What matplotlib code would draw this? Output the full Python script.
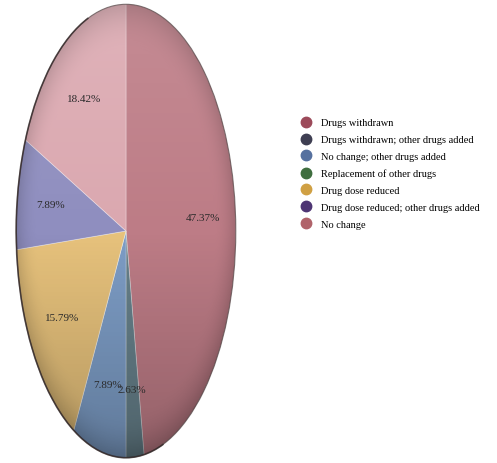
import numpy as np
import matplotlib
matplotlib.use("Agg")
import matplotlib.pyplot as plt
from matplotlib.lines import Line2D
from matplotlib.patches import Ellipse, Arc

# Share of patients per intervention outcome (%)
categories = [
    "Drugs withdrawn",
    "Drugs withdrawn; other drugs added",
    "No change; other drugs added",
    "Replacement of other drugs",
    "Drug dose reduced",
    "Drug dose reduced; other drugs added",
    "No change",
]
shares = [47.37, 2.63, 7.89, 0.0, 15.79, 7.89, 18.42]

slice_colors = ["#bd7c86", "#66808a", "#7d9dc6", "#5f8a5a", "#e7c27c", "#8f8ebf", "#dba8b0"]
legend_colors = ["#9c4a5a", "#3e3e52", "#56719f", "#3f6e3f", "#d0a043", "#4e3574", "#b0636a"]

plt.rcParams["font.family"] = ["Liberation Serif", "DejaVu Serif"]

fig = plt.figure(figsize=(4.97, 4.64), dpi=100)
ax = fig.add_axes([14 / 497, 3 / 464, 224 / 497, 458 / 464])


def pct_label(p):
    return "" if p < 0.5 else f"{p:.2f}%"


wedges, _, autotexts = ax.pie(
    shares,
    colors=slice_colors,
    startangle=90,
    counterclock=False,
    autopct=pct_label,
    pctdistance=0.7,
    wedgeprops=dict(linewidth=0.6, edgecolor=(1, 1, 1, 0.35)),
    textprops=dict(fontsize=8, color="#2a2a2a"),
)
ax.set_aspect("auto")
ax.set_xlim(-1.02, 1.02)
ax.set_ylim(-1.01, 1.01)

# soft shading: light top, darker bottom, a slight rim
xx, yy = np.meshgrid(np.linspace(-1, 1, 300), np.linspace(-1, 1, 300))
rr = np.sqrt(xx ** 2 + yy ** 2)
dark = np.clip(-yy, 0, 1) * 0.22 + np.clip((rr - 0.8) / 0.2, 0, 1) ** 2 * 0.15
light = np.clip(yy, 0, 1) * 0.12
shade = np.zeros((300, 300, 4))
shade[..., :3] = (light / (light + dark + 1e-9))[..., None]
shade[..., 3] = light + dark
img = ax.imshow(shade, extent=(-1, 1, -1, 1), origin="lower", zorder=3, aspect="auto")
img.set_clip_path(Ellipse((0, 0), 2, 2, transform=ax.transData))

ax.add_patch(Ellipse((0, 0), 2, 2, fill=False, lw=0.8, ec="#3a2c2c", alpha=0.6, zorder=4))
ax.add_patch(Arc((0, 0), 2, 2, theta1=110, theta2=290, lw=1.2, color="#2a2020", alpha=0.7, zorder=4))
for t in autotexts:
    t.set_zorder(5)

handles = [
    Line2D([], [], marker="o", linestyle="none", markersize=7.5,
           markerfacecolor=c, markeredgecolor=c)
    for c in legend_colors
]
fig.legend(
    handles, categories,
    loc="upper left", bbox_to_anchor=(296 / 497, 1 - 115 / 464),
    frameon=False, fontsize=7.5, labelspacing=0.72,
    handletextpad=0.8, handlelength=1.2, borderaxespad=0,
)

fig.savefig("out.png", dpi=100)
